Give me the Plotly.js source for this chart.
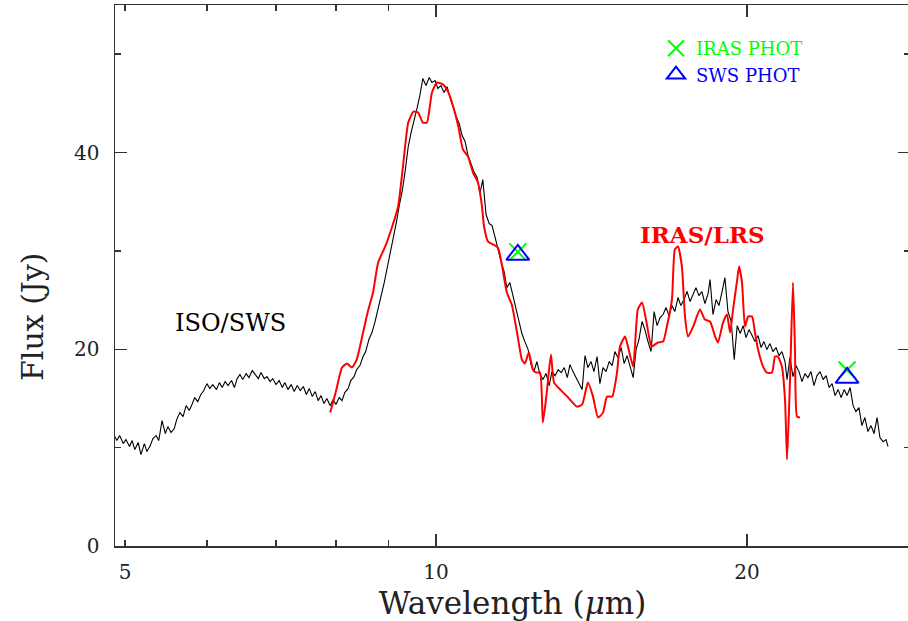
<!DOCTYPE html>
<html>
<head>
<meta charset="utf-8">
<script src="https://cdn.plot.ly/plotly-3.0.1.min.js"></script>
<style>
html,body{margin:0;padding:0;overflow:hidden;background:#fff;}
#chart{width:910px;height:621px;}
</style>
</head>
<body>
<div id="chart"></div>
<script>
// ISO/SWS spectrum (wavelength in micron, flux in Jy)
var swsWave = [
4.89,4.91,4.94,4.98,5.01,5.05,5.08,5.11,5.15,5.18,
5.22,5.25,5.29,5.32,5.36,5.39,5.43,5.47,5.50,5.54,
5.58,5.61,5.65,5.69,5.73,5.77,5.81,5.84,5.88,5.92,
5.96,6.00,6.04,6.08,6.13,6.17,6.21,6.25,6.29,6.34,
6.38,6.42,6.46,6.50,6.55,6.59,6.64,6.68,6.73,6.77,
6.82,6.86,6.91,6.95,7.00,7.05,7.10,7.14,7.19,7.24,
7.29,7.34,7.39,7.44,7.49,7.54,7.59,7.64,7.69,7.74,
7.79,7.84,7.90,7.95,8.00,8.06,8.11,8.16,8.22,8.27,
8.33,8.38,8.44,8.50,8.55,8.61,8.67,8.73,8.79,8.85,
8.91,8.97,9.03,9.09,9.15,9.21,9.28,9.34,9.40,9.46,
9.52,9.59,9.65,9.71,9.78,9.85,9.91,9.98,10.04,10.11,
10.18,10.25,10.32,10.39,10.46,10.53,10.60,10.67,10.74,10.81,
10.88,10.96,11.03,11.10,11.18,11.26,11.33,11.41,11.48,11.56,
11.64,11.71,11.79,11.87,11.95,12.03,12.11,12.19,12.28,12.36,
12.44,12.52,12.61,12.69,12.78,12.87,12.95,13.04,13.13,13.22,
13.31,13.40,13.48,13.57,13.66,13.76,13.85,13.94,14.03,14.13,
14.22,14.32,14.41,14.51,14.61,14.71,14.81,14.90,15.00,15.11,
15.21,15.31,15.41,15.52,15.62,15.72,15.83,15.93,16.04,16.15,
16.26,16.37,16.48,16.59,16.70,16.81,16.92,17.03,17.15,17.26,
17.38,17.50,17.62,17.74,17.85,17.97,18.09,18.21,18.34,18.42,
18.54,18.67,18.79,18.92,19.04,19.17,19.31,19.44,19.57,19.70,
19.83,19.96,20.09,20.23,20.36,20.50,20.64,20.77,20.91,21.05,
21.19,21.34,21.48,21.62,21.77,21.87,22.01,22.16,22.31,22.46,
22.61,22.76,22.91,23.07,23.22,23.38,23.54,23.70,23.86,24.02,
24.18,24.34,24.51,24.67,24.84,25.00,25.17,25.34,25.50,25.67,
25.84,26.01,26.19,26.37,26.55,26.73,26.90,27.09,27.27,27.39
];
var swsFlux = [
11.12,10.72,11.23,10.41,10.82,10.11,10.72,9.80,10.51,9.29,
10.41,9.60,10.21,10.92,11.23,10.72,12.75,11.43,12.14,11.53,
11.94,12.85,13.56,13.16,14.27,13.77,14.48,15.09,14.68,15.40,
15.80,16.51,16.00,16.41,15.90,16.61,16.11,16.72,16.31,16.82,
16.11,17.02,17.43,16.92,17.53,17.12,17.83,17.43,17.02,17.63,
17.02,17.22,16.72,17.02,16.41,16.82,16.11,16.61,15.90,16.41,
15.70,16.31,15.80,16.21,15.40,16.00,15.19,15.70,14.78,15.29,
14.48,14.99,14.27,14.89,14.38,15.09,14.78,15.60,16.00,16.82,
17.22,17.93,18.34,19.26,19.77,20.99,21.70,22.82,24.14,25.15,
26.78,28.31,29.73,31.15,32.78,34.51,36.24,38.27,40.61,42.03,
43.15,44.58,45.90,47.52,46.81,47.63,47.12,47.32,46.51,46.81,
46.10,46.70,45.59,44.58,43.66,42.95,41.73,41.12,39.69,38.88,
38.07,37.46,35.84,37.25,33.70,32.78,32.58,31.36,30.14,28.92,
27.90,26.27,26.78,25.46,24.04,22.82,21.60,20.78,19.97,18.44,
17.73,18.75,17.43,16.92,17.53,16.31,17.73,17.32,17.93,17.63,
18.14,17.12,18.44,17.73,17.12,16.51,15.90,19.36,18.14,18.75,
17.73,19.26,16.51,18.14,17.73,18.75,18.34,19.77,19.16,20.18,
18.55,19.36,18.34,17.12,19.97,20.99,22.82,22.00,20.78,19.77,
23.83,22.41,23.22,23.53,24.24,23.43,24.44,23.83,25.26,24.44,
25.05,25.87,24.85,25.56,26.27,25.46,25.87,24.65,25.66,27.09,
23.53,25.05,24.44,25.87,27.29,23.83,22.82,18.95,22.41,21.60,
22.41,21.19,22.00,21.39,20.78,21.39,20.18,20.78,19.97,20.58,
19.77,20.18,19.36,19.77,18.75,16.92,19.16,17.22,18.34,17.73,
16.72,17.53,17.12,17.73,16.31,17.32,17.73,16.92,17.32,16.11,
16.51,15.29,15.90,15.09,15.90,15.29,16.11,14.27,13.66,14.07,
12.24,13.06,11.63,12.24,11.43,13.06,11.02,10.61,10.82,10.11
];

// IRAS/LRS spectrum
var lrsWave = [
7.90,8.00,8.11,8.20,8.29,8.38,8.50,8.59,8.69,8.79,
8.93,9.07,9.19,9.29,9.40,9.51,9.61,9.71,9.80,9.91,
10.02,10.16,10.27,10.39,10.51,10.62,10.74,10.86,10.98,11.08,
11.13,11.23,11.36,11.48,11.59,11.71,11.84,11.98,12.11,12.19,
12.30,12.41,12.50,12.61,12.69,12.80,12.92,13.01,13.19,13.40,
13.69,13.85,14.03,14.19,14.35,14.51,14.64,14.81,14.97,15.07,
15.24,15.34,15.52,15.68,15.83,15.99,16.17,16.39,16.59,16.73,
16.92,17.03,17.15,17.30,17.42,17.54,17.74,18.01,18.21,18.42,
18.63,18.75,18.96,19.13,19.26,19.39,19.57,19.65,19.78,19.91,
20.05,20.23,20.36,20.50,20.73,20.91,21.15,21.29,21.43,21.62,
21.77,21.87,22.01,22.16,22.26,22.36,22.51
];
var lrsFlux = [
13.58,15.70,18.14,18.55,18.14,18.95,21.70,23.83,25.77,28.82,
30.45,32.48,34.51,38.58,43.05,44.17,44.07,43.05,43.05,46.10,
47.12,46.91,46.20,44.68,42.64,40.30,39.59,37.97,36.95,34.51,
32.48,30.95,30.65,30.34,28.41,25.77,24.55,21.70,18.95,18.55,
19.67,17.93,17.63,17.63,12.55,15.60,19.46,16.61,15.90,15.19,
14.17,14.38,16.61,15.19,13.06,13.56,15.19,15.19,17.63,20.28,
21.29,20.28,18.24,24.04,24.75,22.71,20.28,20.68,20.78,22.31,
25.05,30.14,30.45,28.41,23.32,21.29,22.31,24.04,23.02,22.82,
21.29,20.68,22.71,23.53,21.70,24.04,27.09,28.41,26.78,22.31,
23.32,23.32,21.70,19.97,18.24,17.63,17.63,19.26,19.26,18.24,
14.89,8.79,16.61,26.78,19.97,13.16,13.06
];

// Photometry
var irasWave = [12.0, 25.0];
var irasFlux = [29.9, 17.9];
var swsPhotWave = [12.0, 25.0];
var swsPhotFlux = [29.6, 17.1];

// Axis ticks
var xTickVals = [5, 6, 7, 8, 9, 10, 20];
var xTickText = ['5', '', '', '', '', '10', '20'];
var xMajorVals = [10, 20];
var yTickVals = [0, 20, 40];
var yMinorVals = [10, 30, 50];

var SERIF = 'DejaVu Serif, Liberation Serif, serif';
var AX = '#333333';

var traces = [
  {x: swsWave, y: swsFlux, mode: 'lines', line: {color: '#000000', width: 1.1},
   showlegend: false, hoverinfo: 'skip'},
  {x: lrsWave, y: lrsFlux, mode: 'lines', line: {color: '#ff0000', width: 2, shape: 'spline', smoothing: 0.5},
   showlegend: false, hoverinfo: 'skip'},
  {x: irasWave, y: irasFlux, mode: 'markers', name: '<span style="color:#00ff00">IRAS PHOT</span>',
   marker: {symbol: 'x-thin-open', size: 17, color: '#00ff00', line: {width: 2, color: '#00ff00'}}},
  {x: swsPhotWave, y: swsPhotFlux, mode: 'markers', name: '<span style="color:#0000ff">SWS PHOT</span>',
   marker: {symbol: 'triangle-up-open', size: 20, color: '#0000ff', line: {width: 2, color: '#0000ff'}}},
  {x: irasWave, y: irasFlux, xaxis: 'x2', yaxis: 'y2', mode: 'markers',
   marker: {opacity: 0}, showlegend: false, hoverinfo: 'skip'}
];

var xRange = [0.68925, 1.45886];
var yRange = [0, 55];

var layout = {
  width: 910, height: 621,
  margin: {l: 115, r: 0, t: 5, b: 75},
  paper_bgcolor: '#ffffff', plot_bgcolor: '#ffffff',
  font: {family: SERIF, color: '#222222', size: 19},
  showlegend: true,
  legend: {x: 0.6805, y: 0.9538, xanchor: 'left', yanchor: 'top',
           bgcolor: 'rgba(0,0,0,0)', borderwidth: 0,
           font: {family: SERIF, size: 18}},
  xaxis: {
    type: 'log', range: xRange, autorange: false,
    tickmode: 'array', tickvals: xTickVals, ticktext: xTickText,
    ticks: 'inside', ticklen: 6, tickwidth: 1.5, tickcolor: AX,
    showline: true, linecolor: AX, linewidth: 1.5, mirror: 'ticks',
    showgrid: false, zeroline: false,
    tickfont: {family: SERIF, size: 20, color: '#222222'},
    ticklabelstandoff: 7,
    title: {text: 'Wavelength (<i>μ</i>m)', font: {family: SERIF, size: 31, color: '#222222'}, standoff: 13}
  },
  xaxis2: {
    type: 'log', range: xRange, autorange: false, overlaying: 'x', side: 'bottom',
    tickmode: 'array', tickvals: xMajorVals, showticklabels: false,
    ticks: 'inside', ticklen: 12, tickwidth: 1.5, tickcolor: AX,
    showline: false, mirror: 'ticks', showgrid: false, zeroline: false
  },
  yaxis: {
    range: yRange, autorange: false,
    tickmode: 'array', tickvals: yTickVals,
    ticks: 'inside', ticklen: 12, tickwidth: 1.5, tickcolor: AX,
    showline: true, linecolor: AX, linewidth: 1.5, mirror: 'ticks',
    showgrid: false, zeroline: false,
    tickfont: {family: SERIF, size: 20, color: '#222222'},
    ticklabelstandoff: 10,
    title: {text: ''}
  },
  yaxis2: {
    range: yRange, autorange: false, overlaying: 'y', side: 'left',
    tickmode: 'array', tickvals: yMinorVals, showticklabels: false,
    ticks: 'inside', ticklen: 6, tickwidth: 1.5, tickcolor: AX,
    showline: false, mirror: 'ticks', showgrid: false, zeroline: false
  },
  annotations: [
    {xref: 'paper', yref: 'paper', x: -0.1031, y: 0.4233, xanchor: 'center', yanchor: 'middle',
     text: 'Flux (Jy)', textangle: -90, showarrow: false, font: {family: SERIF, size: 30, color: '#222222'}},
    {xref: 'paper', yref: 'paper', x: 0.1459, y: 0.4122, xanchor: 'center', yanchor: 'middle',
     text: 'ISO/SWS', showarrow: false, font: {family: SERIF, size: 24, color: '#000000'}},
    {xref: 'paper', yref: 'paper', x: 0.7396, y: 0.5767, xanchor: 'center', yanchor: 'middle',
     text: '<b>IRAS/LRS</b>', showarrow: false, font: {family: SERIF, size: 23, color: '#ff0000'}}
  ]
};

Plotly.newPlot('chart', traces, layout, {displayModeBar: false, staticPlot: true});
</script>
</body>
</html>
